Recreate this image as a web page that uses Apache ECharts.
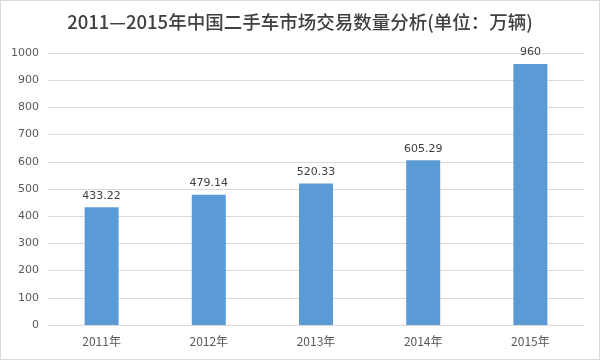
<!DOCTYPE html>
<html><head><meta charset="utf-8">
<script src="https://cdn.jsdelivr.net/npm/echarts@6/dist/echarts.min.js"></script>
<style>html,body{margin:0;padding:0;background:#fff}#c{width:600px;height:360px;box-sizing:border-box;border:1px solid #d9d9d9}</style>
</head><body><div id="c"></div>
<script>
var categories = ['2011年','2012年','2013年','2014年','2015年'];
var values = [433.22, 479.14, 520.33, 605.29, 960];
var yTicks = {min:0, max:1000, interval:100};
var chart = echarts.init(document.getElementById('c'));
chart.setOption({
  animation:false,
  title:{text:'2011—2015年中国二手车市场交易数量分析(单位：万辆)', left:'center', top:7,
    textStyle:{fontSize:18.5, fontWeight:500, color:'#404040', fontFamily:'"Noto Sans CJK SC", sans-serif'}},
  grid:{left:47, right:15, top:52, bottom:34},
  xAxis:{type:'category', data:categories,
    axisLine:{lineStyle:{color:'#d9d9d9'}}, axisTick:{show:false},
    axisLabel:{color:'#595959', fontSize:12, margin:10, fontFamily:'"Noto Sans CJK SC", sans-serif'}},
  yAxis:{type:'value', min:yTicks.min, max:yTicks.max, interval:yTicks.interval,
    axisLine:{show:false}, axisTick:{show:false},
    splitLine:{lineStyle:{color:'#d9d9d9'}},
    axisLabel:{color:'#595959', fontSize:11, margin:9, formatter:function(v){return String(v);}, fontFamily:'"DejaVu Sans", sans-serif'}},
  series:[{type:'bar', data:values, barWidth:34,
    itemStyle:{color:'#5b9bd5'},
    label:{show:true, position:'top', color:'#404040', fontSize:11, distance:6, fontFamily:'"DejaVu Sans", sans-serif'}}]
});
</script></body></html>
